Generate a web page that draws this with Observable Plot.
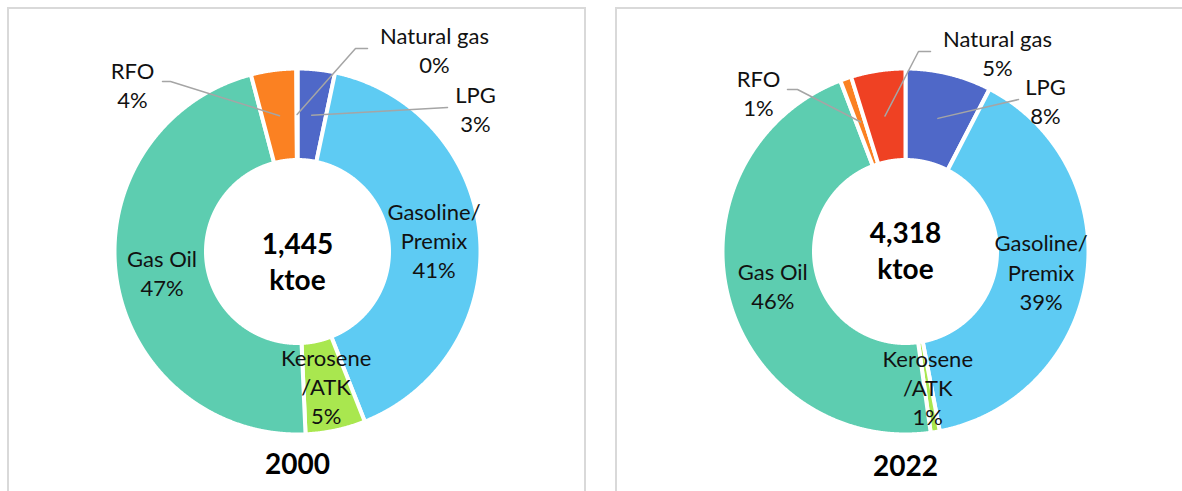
<!DOCTYPE html>
<html><head><meta charset="utf-8">
<script src="https://cdn.jsdelivr.net/npm/d3@7"></script>
<script src="https://cdn.jsdelivr.net/npm/@observablehq/plot@0.6"></script>
<style>
html,body{margin:0;padding:0;background:#fff;overflow:hidden;width:1182px;height:491px;position:relative;font-family:Lato,sans-serif}
.panel{position:absolute;border:2px solid #d9d9d9;box-sizing:border-box;}
.holder{position:absolute;top:0}
.holder svg{background:transparent !important;max-width:none !important}
</style></head><body>
<div class="panel" style="left:7px;top:7px;width:579px;height:500px"></div>
<div class="panel" style="left:615px;top:7px;width:600px;height:500px"></div>
<div id="c1" class="holder" style="left:0px"></div>
<div id="c2" class="holder" style="left:600px"></div>
<script>
// ---- data ----
const fuels = ["LPG", "Gasoline/Premix", "Kerosene/ATK", "Gas Oil", "RFO", "Natural gas"];
const fuelLabels = ["LPG", "Gasoline/\nPremix", "Kerosene\n/ATK", "Gas Oil", "RFO", "Natural gas"];
const fuelColors = ["#4f68c8", "#5ecbf3", "#a9e74f", "#5dcdb0", "#fb8122", "#ef4123"];
const years = ["2000", "2022"];
const totalsKtoe = [1445, 4318];
const share2000 = [3.3, 40.7, 5.3, 46.6, 4.0, 0.1];
const share2022 = [7.6, 39.4, 0.8, 46.4, 1.0, 4.8];

// ---- layout (pixel offsets from each donut centre) ----
const layouts = [
  {holder: "#c1", width: 600, cx: 297, cy: 251, centerDy: 9, titleDy: 214,
   outside: {
     "Natural gas": {lx: 137, ly: -202, pts: [[70, -203], [58, -203]]},
     "LPG": {lx: 178, ly: -143, pts: [[150, -144]]},
     "RFO": {lx: -165, ly: -167, pts: [[-135, -170], [-127, -170]]}
   }},
  {holder: "#c2", width: 582, cx: 305, cy: 251, centerDy: -2, titleDy: 216,
   outside: {
     "Natural gas": {lx: 92, ly: -199, pts: [[25, -200], [13, -200]]},
     "LPG": {lx: 140, ly: -151, pts: [[113, -152]]},
     "RFO": {lx: -147, ly: -159, pts: [[-118, -162], [-108, -162]]}
   }}
];

const R_IN = 91.5, R_OUT = 183, R_MID = 137, H = 491;

function donut(shares, total, year, L) {
  const rows = fuels.map((f, i) => ({fuel: f, label: fuelLabels[i], value: shares[i]}));
  const arcs = d3.pie().sort(null).value(d => d.value)(rows);
  const poly = [];
  const inside = [], outsideText = [], leaders = [];
  for (const a of arcs) {
    const n = Math.max(2, Math.ceil((a.endAngle - a.startAngle) / 0.004));
    for (let j = 0; j <= n; j++) {
      const t = a.startAngle + (a.endAngle - a.startAngle) * j / n;
      poly.push({fuel: a.data.fuel, x: R_OUT * Math.sin(t), y: -R_OUT * Math.cos(t)});
    }
    for (let j = n; j >= 0; j--) {
      const t = a.startAngle + (a.endAngle - a.startAngle) * j / n;
      poly.push({fuel: a.data.fuel, x: R_IN * Math.sin(t), y: -R_IN * Math.cos(t)});
    }
    const mid = (a.startAngle + a.endAngle) / 2;
    const cx = R_MID * Math.sin(mid), cy = -R_MID * Math.cos(mid);
    const text = a.data.label + "\n" + Math.round(a.data.value) + "%";
    const o = L.outside[a.data.fuel];
    if (o) {
      outsideText.push({x: o.lx, y: o.ly, text});
      for (const p of o.pts) leaders.push({fuel: a.data.fuel, x: p[0], y: p[1]});
      leaders.push({fuel: a.data.fuel, x: cx, y: cy});
    } else {
      inside.push({x: cx, y: cy, text});
    }
  }
  const W = L.width;
  const chart = Plot.plot({
    width: W, height: H, margin: 0,
    style: {background: "transparent", fontFamily: "Lato, sans-serif"},
    x: {domain: [-L.cx, W - L.cx], range: [0, W], axis: null},
    y: {domain: [-L.cy, H - L.cy], range: [0, H], axis: null},
    color: {domain: fuels, range: fuelColors},
    marks: [
      Plot.line(poly, {x: "x", y: "y", z: "fuel", fill: "fuel", stroke: "white", strokeWidth: 4, curve: "linear-closed"}),
      Plot.line(leaders, {x: "x", y: "y", z: "fuel", stroke: "#a5a5a5", strokeWidth: 1.5}),
      Plot.text(inside, {x: "x", y: "y", text: "text", fontSize: 22, lineHeight: 1.32, fill: "#111", fontFamily: "Lato"}),
      Plot.text(outsideText, {x: "x", y: "y", text: "text", fontSize: 22, lineHeight: 1.32, fill: "#111", fontFamily: "Lato"}),
      Plot.text([{x: 0, y: L.centerDy, text: d3.format(",")(total) + "\nktoe"}], {x: "x", y: "y", text: "text", fontSize: 28, fontWeight: "bold", lineHeight: 1.27, fill: "#000", fontFamily: "Lato"}),
      Plot.text([{x: 0, y: L.titleDy, text: year}], {x: "x", y: "y", text: "text", fontSize: 28, fontWeight: "bold", fill: "#000", fontFamily: "Lato"})
    ]
  });
  document.querySelector(L.holder).appendChild(chart);
}

donut(share2000, totalsKtoe[0], years[0], layouts[0]);
donut(share2022, totalsKtoe[1], years[1], layouts[1]);
</script>
</body></html>
